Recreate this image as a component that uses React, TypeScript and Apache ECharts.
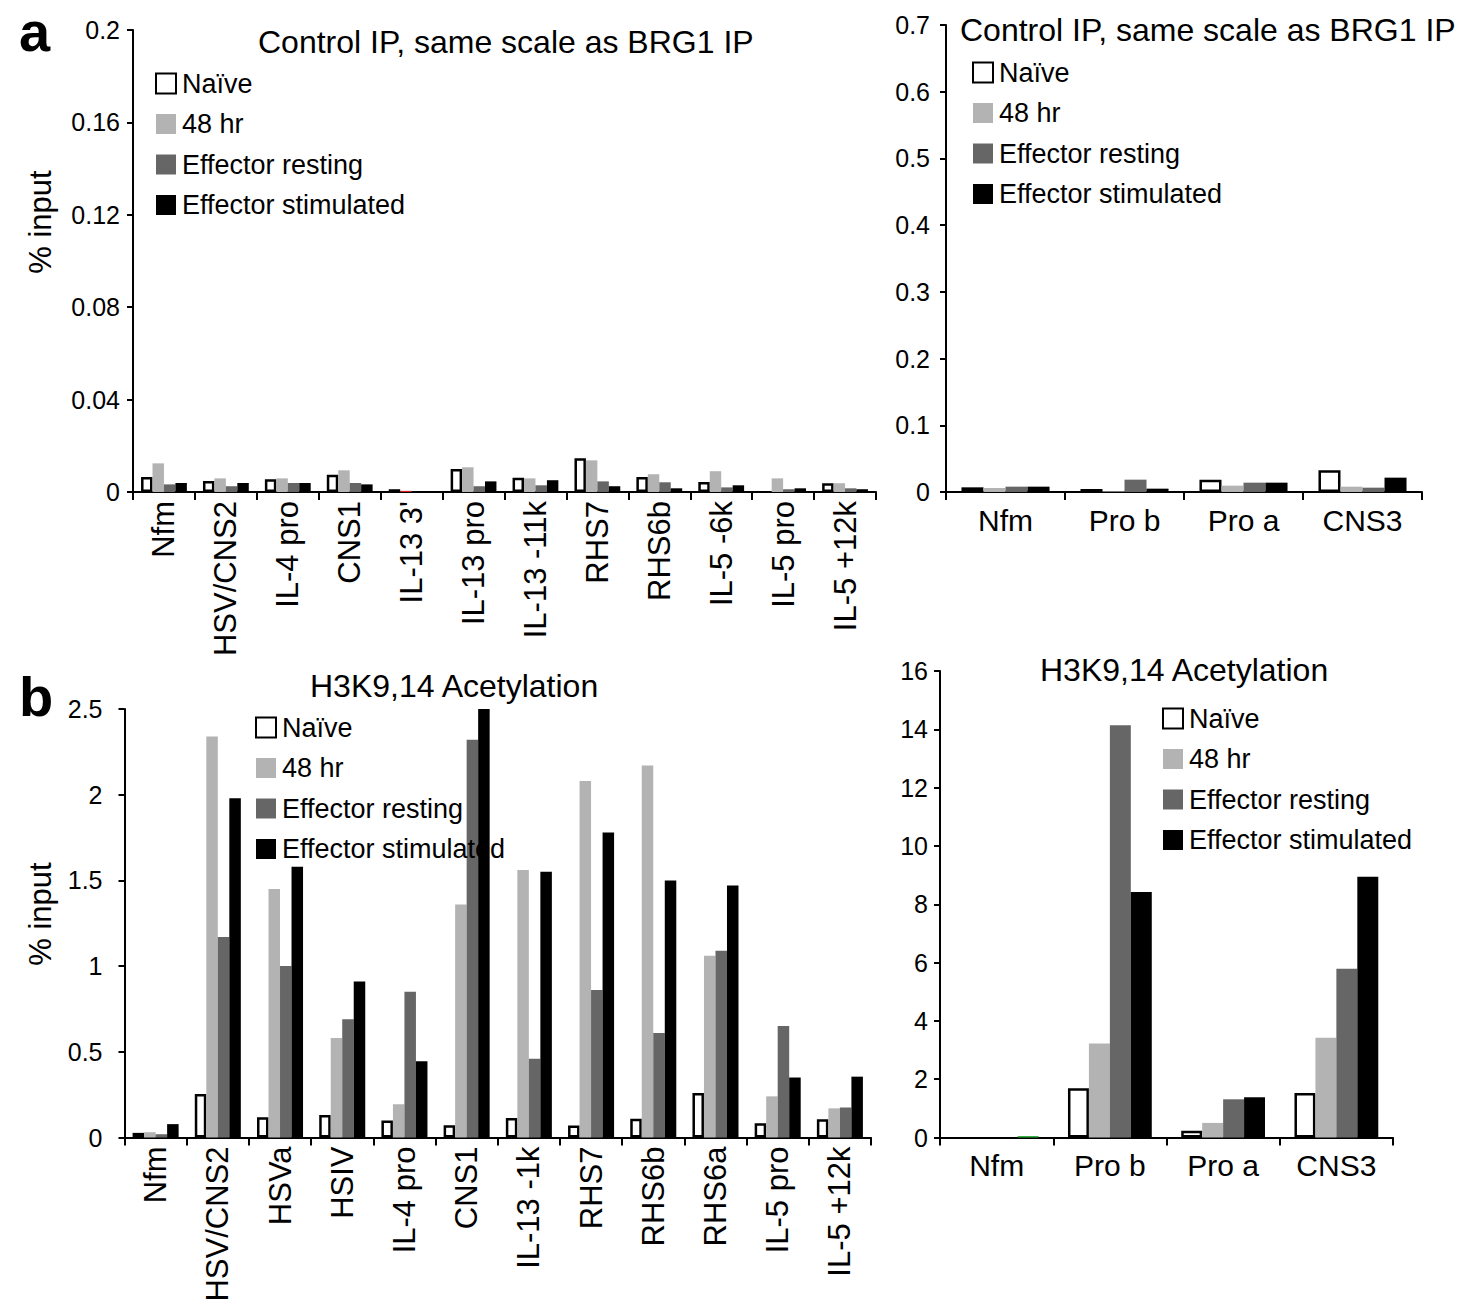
import React, { useEffect, useRef } from "react";
import * as echarts from "echarts";

// ---------- Data ----------
const seriesNames = ["Naïve", "48 hr", "Effector resting", "Effector stimulated"];

// Panel a, left: Control IP (Th2 locus)
const aLeftCategories = ["Nfm", "HSV/CNS2", "IL-4 pro", "CNS1", "IL-13 3'", "IL-13 pro", "IL-13 -11k", "RHS7", "RHS6b", "IL-5 -6k", "IL-5 pro", "IL-5 +12k"];
const aLeftNaive = [0.0065, 0.0048, 0.0055, 0.0075, 0.0012, 0.0100, 0.0062, 0.0146, 0.0065, 0.0043, 0, 0.0038];
const aLeft48hr = [0.0124, 0.0059, 0.0059, 0.0094, 0.0005, 0.0107, 0.0059, 0.0137, 0.0077, 0.0090, 0.0059, 0.0038];
const aLeftResting = [0.0033, 0.0025, 0.0039, 0.0039, 0, 0.0025, 0.0029, 0.0046, 0.0042, 0.0020, 0.0012, 0.0016];
const aLeftStim = [0.0039, 0.0039, 0.0039, 0.0033, 0, 0.0046, 0.0051, 0.0025, 0.0016, 0.0029, 0.0016, 0.0012];

// Panel a, right: Control IP, same scale as BRG1 IP (IL-10 locus)
const aRightCategories = ["Nfm", "Pro b", "Pro a", "CNS3"];
const aRightNaive = [0.007, 0.0045, 0.0185, 0.0325];
const aRight48hr = [0.006, 0.001, 0.0095, 0.008];
const aRightResting = [0.008, 0.0185, 0.014, 0.0065];
const aRightStim = [0.008, 0.005, 0.014, 0.0215];

// Panel b, left: H3K9,14 Acetylation
const bLeftCategories = ["Nfm", "HSV/CNS2", "HSVa", "HSIV", "IL-4 pro", "CNS1", "IL-13 -1k", "RHS7", "RHS6b", "RHS6a", "IL-5 pro", "IL-5 +12k"];
const bLeftNaive = [0.027, 0.254, 0.118, 0.132, 0.099, 0.072, 0.114, 0.07, 0.11, 0.26, 0.083, 0.106];
const bLeft48hr = [0.031, 2.34, 1.45, 0.58, 0.194, 1.36, 1.56, 2.08, 2.17, 1.06, 0.24, 0.17];
const bLeftResting = [0.019, 1.17, 1.0, 0.69, 0.85, 2.32, 0.46, 0.86, 0.61, 1.09, 0.65, 0.175];
const bLeftStim = [0.078, 1.98, 1.58, 0.91, 0.445, 2.53, 1.55, 1.78, 1.50, 1.47, 0.35, 0.355];

// Panel b, right: H3K9,14 Acetylation (IL-10 locus)
const bRightCategories = ["Nfm", "Pro b", "Pro a", "CNS3"];
const bRightNaive = [0, 1.69, 0.23, 1.53];
const bRight48hr = [0, 3.22, 0.5, 3.42];
const bRightResting = [0, 14.14, 1.31, 5.79];
const bRightStim = [0.05, 8.42, 1.38, 8.94];

// Y axis scales [min, max, interval]
const aLeftScale = [0, 0.2, 0.04];
const aRightScale = [0, 0.7, 0.1];
const bLeftScale = [0, 2.5, 0.5];
const bRightScale = [0, 16, 2];

const titleControl = "Control IP, same scale as BRG1 IP";
const titleAcetyl = "H3K9,14 Acetylation";
const yName = "% input";

// ---------- Styling ----------
const FONT = "'Liberation Sans', Arial, Helvetica, sans-serif";
const seriesColors = ["#ffffff", "#b3b3b3", "#666666", "#000000"];

function App() {
  const ref = useRef<HTMLDivElement>(null);

  useEffect(() => {
    if (!ref.current) return;
    const chart = echarts.init(ref.current, undefined, { renderer: "svg" });

    const grids = [
      { left: 133, top: 30, width: 743, height: 462 },
      { left: 946, top: 25, width: 476, height: 467 },
      { left: 124.5, top: 709, width: 746.5, height: 428.5 },
      { left: 940, top: 671, width: 453, height: 466.5 },
    ];
    const cats = [aLeftCategories, aRightCategories, bLeftCategories, bRightCategories];
    const scales = [aLeftScale, aRightScale, bLeftScale, bRightScale];
    const values = [
      [aLeftNaive, aLeft48hr, aLeftResting, aLeftStim],
      [aRightNaive, aRight48hr, aRightResting, aRightStim],
      [bLeftNaive, bLeft48hr, bLeftResting, bLeftStim],
      [bRightNaive, bRight48hr, bRightResting, bRightStim],
    ];
    // odd coloured slivers visible in the original figure: [grid, series, index, color]
    const slivers: [number, number, number, string][] = [
      [0, 1, 4, "#d42020"],
      [3, 3, 0, "#2fae3c"],
    ];
    const yLabelMargins = [13, 16, 22, 12];

    const xAxes = cats.map((c, i) => {
      const rotated = i === 0 || i === 2;
      return {
        type: "category",
        gridIndex: i,
        data: c,
        axisLine: { show: true, lineStyle: { color: "#000", width: 2 } },
        axisTick: { show: true, length: 8, lineStyle: { color: "#000", width: 2 } },
        axisLabel: {
          show: true,
          rotate: rotated ? 90 : 0,
          interval: 0,
          color: "#000",
          fontFamily: FONT,
          fontSize: rotated ? 31 : 30,
          margin: rotated ? 9 : 13,
        },
        splitLine: { show: false },
      };
    });

    const yAxes = scales.map((s, i) => ({
      type: "value",
      gridIndex: i,
      min: s[0],
      max: s[1],
      interval: s[2],
      axisLine: { show: true, lineStyle: { color: "#000", width: 2 } },
      axisTick: { show: true, length: 6, lineStyle: { color: "#000", width: 2 } },
      axisLabel: { color: "#000", fontFamily: FONT, fontSize: 25, margin: yLabelMargins[i] },
      splitLine: { show: false },
    }));

    const series: any[] = [];
    values.forEach((group, gi) => {
      group.forEach((arr, si) => {
        series.push({
          type: "bar",
          name: seriesNames[si],
          xAxisIndex: gi,
          yAxisIndex: gi,
          barGap: "0%",
          barCategoryGap: "26%",
          data: arr.map((v, idx) => {
            const s = slivers.find((q) => q[0] === gi && q[1] === si && q[2] === idx);
            if (s) return { value: v, itemStyle: { color: s[3], borderWidth: 0 } };
            if (v === 0) return { value: v, itemStyle: { borderWidth: 0 } };
            return v;
          }),
          itemStyle: {
            color: seriesColors[si],
            borderColor: si === 0 ? "#000" : seriesColors[si],
            borderWidth: si === 0 ? 2.5 : 0,
          },
          emphasis: { disabled: true },
        });
      });
    });

    const legendPos = [
      { left: 155, top: 70 },
      { left: 972, top: 59 },
      { left: 255, top: 714 },
      { left: 1162, top: 705 },
    ];
    const legendData = seriesNames.map((n, i) =>
      i === 0 ? { name: n, itemStyle: { color: "#fff", borderColor: "#000", borderWidth: 2 } } : { name: n }
    );
    const legends = legendPos.map((p) => ({
      orient: "vertical",
      left: p.left,
      top: p.top,
      padding: 0,
      itemWidth: 20,
      itemHeight: 20,
      itemGap: 13.5,
      icon: "rect",
      data: legendData,
      selectedMode: false,
      textStyle: { color: "#000", fontFamily: FONT, fontSize: 27, padding: [0, 0, 0, 1] },
      itemStyle: { borderWidth: 0 },
    }));

    const titles = [
      { text: titleControl, left: 258, top: 25.5 },
      { text: titleControl, left: 960, top: 13.5 },
      { text: titleAcetyl, left: 310, top: 669.5 },
      { text: titleAcetyl, left: 1040, top: 653.5 },
    ].map((t) => ({
      text: t.text,
      left: t.left,
      top: t.top,
      padding: 0,
      textStyle: { color: "#000", fontFamily: FONT, fontSize: 32, fontWeight: "normal" },
    }));

    chart.setOption({
      animation: false,
      backgroundColor: "#fff",
      title: titles,
      legend: legends,
      grid: grids,
      xAxis: xAxes,
      yAxis: yAxes,
      series,
      graphic: [
        { type: "text", x: 19, y: 3, style: { text: "a", font: `bold 56px ${FONT}`, fill: "#000" } },
        { type: "text", x: 19, y: 668, style: { text: "b", font: `bold 56px ${FONT}`, fill: "#000" } },
        {
          type: "text",
          x: 40,
          y: 222,
          rotation: Math.PI / 2,
          style: { text: yName, font: `31px ${FONT}`, fill: "#000", align: "center", verticalAlign: "middle" },
        },
        {
          type: "text",
          x: 40,
          y: 914,
          rotation: Math.PI / 2,
          style: { text: yName, font: `31px ${FONT}`, fill: "#000", align: "center", verticalAlign: "middle" },
        },
      ],
    });

    return () => chart.dispose();
  }, []);

  return (
    <div
      ref={ref}
      style={{ position: "fixed", left: 0, top: 0, width: 1458, height: 1308, background: "#fff" }}
    />
  );
}

export default App;
